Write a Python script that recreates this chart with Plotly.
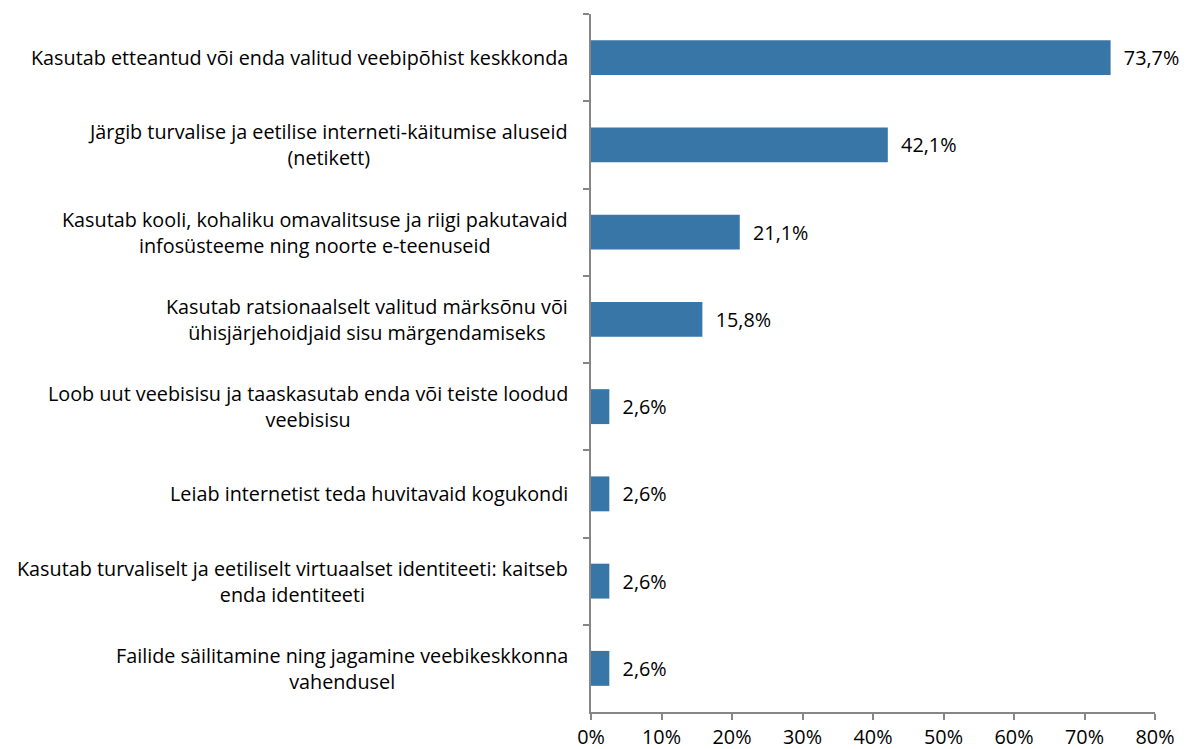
import plotly.graph_objects as go

categories = [
    "Kasutab etteantud või enda valitud veebipõhist keskkonda",
    "Järgib turvalise ja eetilise interneti-käitumise aluseid<br>(netikett)",
    "Kasutab kooli, kohaliku omavalitsuse ja riigi pakutavaid<br>infosüsteeme ning noorte e-teenuseid",
    "Kasutab ratsionaalselt valitud märksõnu või<br>ühisjärjehoidjaid sisu märgendamiseks",
    "Loob uut veebisisu ja taaskasutab enda või teiste loodud<br>veebisisu",
    "Leiab internetist teda huvitavaid kogukondi",
    "Kasutab turvaliselt ja eetiliselt virtuaalset identiteeti: kaitseb<br>enda identiteeti",
    "Failide säilitamine ning jagamine veebikeskkonna<br>vahendusel",
]
values = [73.7, 42.1, 21.1, 15.8, 2.6, 2.6, 2.6, 2.6]
x_ticks = [0, 10, 20, 30, 40, 50, 60, 70, 80]

ids = [f"c{i}" for i in range(len(categories))]
FONT = "Open Sans"
FS = 19.8

fig = go.Figure(go.Bar(
    x=values, y=ids, orientation="h",
    marker=dict(color="#3776a6", line=dict(width=0)),
    text=["\u00a0\u00a0" + f"{v:.1f}%".replace(".", ",") for v in values],
    textposition="outside", cliponaxis=False,
    textfont=dict(family=FONT, size=FS, color="#000000"),
    width=0.4,
))

for cid, lab in zip(ids, categories):
    fig.add_annotation(x=0, xref="paper", y=cid, yref="y", text=lab,
                       showarrow=False, xanchor="right", align="center",
                       xshift=-21, font=dict(family=FONT, size=FS, color="#000000"))

fig.update_layout(
    width=1192, height=749,
    margin=dict(l=583, r=45, t=6, b=45, autoexpand=False),
    paper_bgcolor="white", plot_bgcolor="white",
    showlegend=False,
    font=dict(family=FONT, size=FS, color="#000000"),
    xaxis=dict(range=[0, 80], tickvals=x_ticks,
               ticktext=[f"{t}%" for t in x_ticks],
               showgrid=False, zeroline=False, showline=True,
               linecolor="#868686", linewidth=1.5,
               ticks="outside", ticklen=6, tickcolor="#868686", tickwidth=1.5,
               tickfont=dict(family=FONT, size=FS)),
    yaxis=dict(categoryorder="array", categoryarray=ids, autorange="reversed",
               showticklabels=False, showgrid=False, zeroline=False,
               showline=True, linecolor="#868686", linewidth=1.5,
               ticks="outside", ticklen=6, tickcolor="#868686", tickwidth=1.5,
               tickson="boundaries"),
)

fig.write_html("out.html")
